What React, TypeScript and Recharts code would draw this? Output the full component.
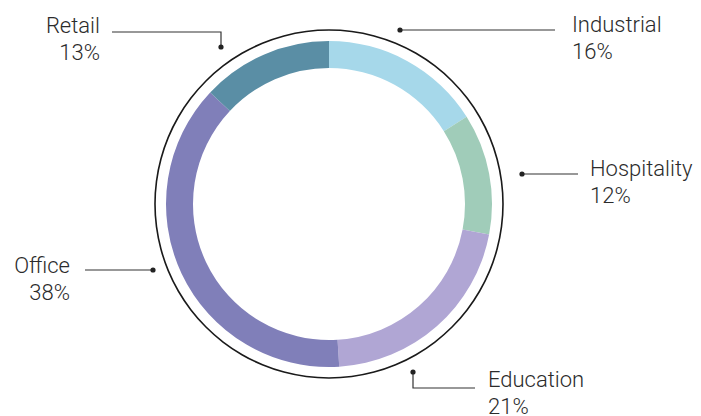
import React from "react";
import { PieChart, Pie, Cell } from "recharts";

const sectors = ["Industrial", "Hospitality", "Education", "Office", "Retail"];
const shares = [16, 12, 21, 38, 13];
const sectorColors = ["#A6D8EA", "#A0CCB9", "#B0A6D4", "#807FB9", "#5A8EA5"];

const data = sectors.map((name, i) => ({ name, value: shares[i] }));
const outline = [{ name: "outline", value: 1 }];

// where each callout dot sits (offset from pie centre) and how its leader runs
const callouts: Record<string, { dx: number; dy: number; path: "up-left" | "right" | "left" | "down-right"; run: number; gap: number }> = {
    Retail: { dx: -108, dy: -157, path: "up-left", run: 109, gap: 12 },
    Industrial: { dx: 71, dy: -174, path: "right", run: 155, gap: 17 },
    Hospitality: { dx: 193, dy: -30, path: "right", run: 56, gap: 12 },
    Education: { dx: 84, dy: 168, path: "down-right", run: 62, gap: 13 },
    Office: { dx: -176, dy: 66, path: "left", run: 68, gap: 15 },
};

const textStyle = {
    fontFamily: "Roboto, 'Liberation Sans', sans-serif",
    fontWeight: 300,
    fontSize: 22,
    fill: "#2b2b2b",
};

function renderCallout(props: any) {
    const { cx, cy, name, value } = props;
    const c = callouts[name];
    if (!c) return null;
    const x0 = cx + c.dx;
    const y0 = cy + c.dy;
    let d = "";
    let tx = 0;
    let ty = 0;
    let anchor: "start" | "end" = "start";
    if (c.path === "up-left") {
        const yl = y0 - 15;
        d = `M${x0},${y0}V${yl}H${x0 - c.run}`;
        tx = x0 - c.run - c.gap;
        ty = yl + 1;
        anchor = "end";
    } else if (c.path === "right") {
        d = `M${x0},${y0}H${x0 + c.run}`;
        tx = x0 + c.run + c.gap;
        ty = y0 + 2;
    } else if (c.path === "left") {
        d = `M${x0},${y0}H${x0 - c.run}`;
        tx = x0 - c.run - c.gap;
        ty = y0 + 3;
        anchor = "end";
    } else {
        const yl = y0 + 16;
        d = `M${x0},${y0}V${yl}H${x0 + c.run}`;
        tx = x0 + c.run + c.gap;
        ty = yl - 1;
    }
    return (
        <g key={`callout-${name}`}>
            <path d={d} stroke="#333" strokeWidth={1.2} fill="none" />
            <circle cx={x0} cy={y0} r={2.6} fill="#222" />
            <text x={tx} y={ty} textAnchor={anchor} style={textStyle}>
                <tspan x={tx}>{name}</tspan>
                <tspan x={tx} dy={27}>{`${value}%`}</tspan>
            </text>
        </g>
    );
}

export default function App() {
    return (
        <PieChart width={693} height={408} margin={{ top: 0, right: 0, bottom: 0, left: 0 }}>
            <Pie
                data={outline}
                dataKey="value"
                cx={321}
                cy={196}
                innerRadius={173.2}
                outerRadius={174.8}
                startAngle={90}
                endAngle={-270}
                stroke="none"
                fill="#1a1a1a"
                isAnimationActive={false}
            />
            <Pie
                data={data}
                dataKey="value"
                nameKey="name"
                cx={321}
                cy={196}
                innerRadius={136}
                outerRadius={163}
                startAngle={90}
                endAngle={-270}
                paddingAngle={0}
                stroke="none"
                labelLine={false}
                label={renderCallout}
                isAnimationActive={false}
            >
                {data.map((d, i) => (
                    <Cell key={`cell-${d.name}`} fill={sectorColors[i]} />
                ))}
            </Pie>
        </PieChart>
    );
}
